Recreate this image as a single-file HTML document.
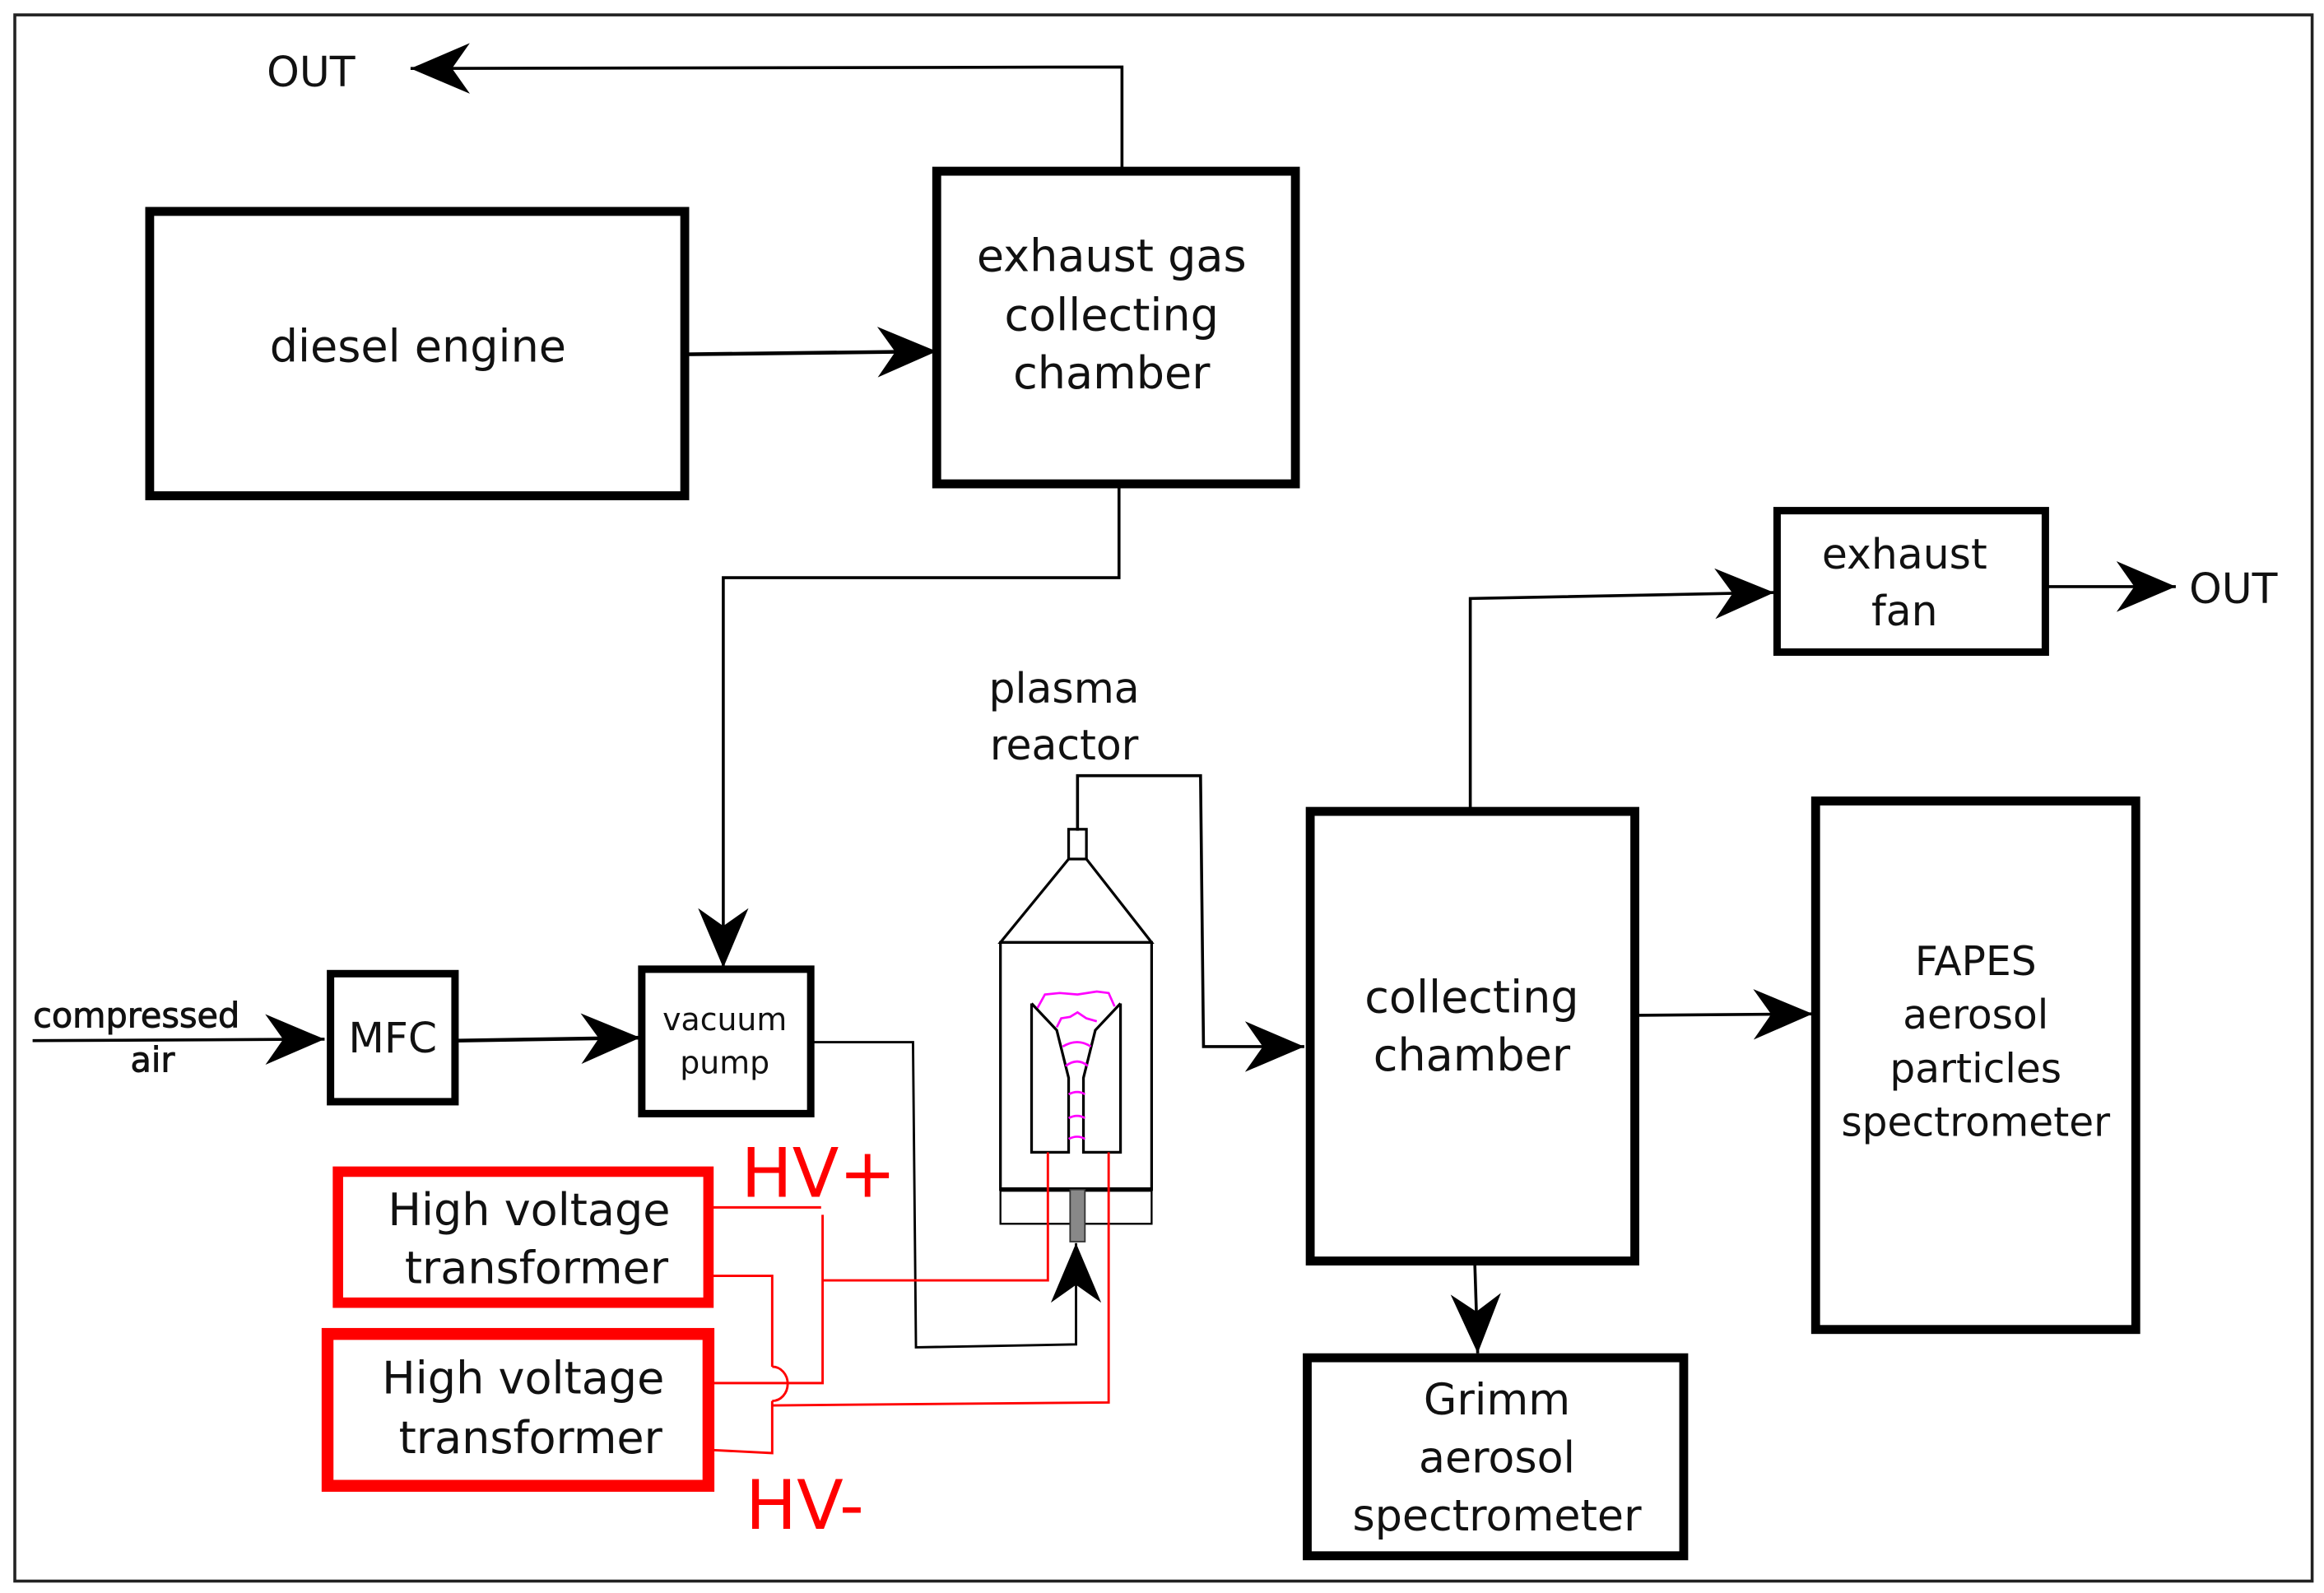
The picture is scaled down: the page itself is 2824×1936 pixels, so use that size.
<!DOCTYPE html>
<html><head><meta charset="utf-8"><style>
html,body{margin:0;padding:0;background:#fff;}
svg{display:block;}
text{font-family:"DejaVu Sans","Liberation Sans",sans-serif;fill:#111;}
</style></head><body>
<svg width="2824" height="1936" viewBox="0 0 1568 1070" preserveAspectRatio="none" xmlns="http://www.w3.org/2000/svg">
<defs>
<marker id="a" markerUnits="userSpaceOnUse" markerWidth="60" markerHeight="40" refX="0" refY="0" viewBox="-40 -20 60 40" orient="auto">
<path d="M0 0 L-40 -17 L-28 0 L-40 17 Z" fill="#000"/>
</marker>
</defs>
<rect x="0" y="0" width="1568" height="1070" fill="#fff"/>
<rect x="10" y="10" width="1550" height="1052" fill="none" stroke="#222" stroke-width="2"/>

<text x="180" y="58" font-size="28">OUT</text>
<polyline points="757,113 757,45 277,46" fill="none" stroke="#000" stroke-width="2" marker-end="url(#a)"/>

<rect x="101" y="142" width="361" height="191" fill="none" stroke="#000" stroke-width="6"/>
<text x="282" y="243" font-size="30" text-anchor="middle">diesel engine</text>
<line x1="462" y1="238" x2="632" y2="236" stroke="#000" stroke-width="2.5" marker-end="url(#a)"/>

<rect x="632" y="115" width="242" height="210" fill="none" stroke="#000" stroke-width="6"/>
<g font-size="30" text-anchor="middle">
<text x="750" y="182">exhaust gas</text>
<text x="750" y="222">collecting</text>
<text x="750" y="261">chamber</text>
</g>
<polyline points="755,325 755,388 488,388 488,650" fill="none" stroke="#000" stroke-width="2" marker-end="url(#a)"/>

<text x="92" y="690" font-size="23" text-anchor="middle" stroke="#111" stroke-width="0.5">compressed</text>
<text x="103" y="720" font-size="23" text-anchor="middle" stroke="#111" stroke-width="0.5">air</text>
<line x1="22" y1="699" x2="219" y2="698" stroke="#000" stroke-width="2" marker-end="url(#a)"/>
<rect x="223" y="654" width="84" height="86" fill="none" stroke="#000" stroke-width="5"/>
<text x="265" y="707" font-size="28" text-anchor="middle">MFC</text>
<line x1="307" y1="699" x2="432" y2="697" stroke="#000" stroke-width="2.5" marker-end="url(#a)"/>

<rect x="433" y="651" width="114" height="97" fill="none" stroke="#000" stroke-width="5"/>
<text x="489" y="692" font-size="21" text-anchor="middle">vacuum</text>
<text x="489" y="721" font-size="21" text-anchor="middle">pump</text>
<polyline points="548,700 616,700 618,905 726,903 726,835" fill="none" stroke="#000" stroke-width="1.6" marker-end="url(#a)"/>

<text x="718" y="472" font-size="28" text-anchor="middle">plasma</text>
<text x="718" y="510" font-size="28" text-anchor="middle">reactor</text>
<polyline points="727,558 727,521 810,521 812,703 880,703" fill="none" stroke="#000" stroke-width="2" marker-end="url(#a)"/>

<g fill="none" stroke="#000" stroke-width="1.8">
<rect x="721" y="557" width="12" height="20"/>
<polyline points="721,577 675,633 777,633 733,577"/>
<rect x="675" y="633" width="102" height="166"/>
<rect x="675" y="799" width="102" height="23" stroke-width="1.3"/>
<polyline points="696,674 696,774 721,774 721,724 713,692 696,674"/>
<polyline points="756,674 756,774 731,774 731,724 739,692 756,674"/>
</g>
<line x1="675" y1="799" x2="777" y2="799" stroke="#000" stroke-width="3"/>
<rect x="722" y="799" width="10" height="35" fill="#888" stroke="#333" stroke-width="1"/>
<g fill="none" stroke="#f0f" stroke-width="1.5">
<path d="M700 677 L705 668 L715 667 L727 668 L740 666 L748 667 L752 676"/>
<path d="M713 690 L716 684 L722 683 L727 680 L733 684 L740 686"/>
<path d="M717 703 Q727 697 736 703"/>
<path d="M719 716 Q727 710 734 716"/>
<path d="M721 735 Q727 732 732 735"/>
<path d="M721 751 Q727 748 732 751"/>
<path d="M721 765 Q727 762 732 765"/>
</g>

<rect x="228" y="787" width="250" height="88" fill="none" stroke="#f00" stroke-width="7"/>
<rect x="221" y="896" width="257" height="102" fill="none" stroke="#f00" stroke-width="8"/>
<g font-size="30" text-anchor="middle">
<text x="357" y="823">High voltage</text>
<text x="362" y="862">transformer</text>
<text x="353" y="936">High voltage</text>
<text x="358" y="976">transformer</text>
</g>
<text x="500" y="804" font-size="46" style="fill:#f00">HV+</text>
<text x="503" y="1027" font-size="46" style="fill:#f00">HV-</text>
<g fill="none" stroke="#f00" stroke-width="1.6">
<polyline points="481,811 554,811"/>
<polyline points="555,816 555,929 481,929"/>
<polyline points="555,860 707,860 707,774"/>
<polyline points="481,857 521,857 521,918"/>
<path d="M521 918 A10 11 0 0 1 521 941"/>
<polyline points="521,941 521,976 481,974"/>
<polyline points="521,944 748,942 748,774"/>
</g>

<rect x="884" y="545" width="219" height="302" fill="none" stroke="#000" stroke-width="6"/>
<text x="993" y="680" font-size="30" text-anchor="middle">collecting</text>
<text x="993" y="719" font-size="30" text-anchor="middle">chamber</text>
<polyline points="992,544 992,402 1197,398" fill="none" stroke="#000" stroke-width="2" marker-end="url(#a)"/>
<line x1="1103" y1="682" x2="1223" y2="681" stroke="#000" stroke-width="2" marker-end="url(#a)"/>
<line x1="995" y1="847" x2="997" y2="909" stroke="#000" stroke-width="2" marker-end="url(#a)"/>

<rect x="1199" y="343" width="181" height="95" fill="none" stroke="#000" stroke-width="5"/>
<text x="1285" y="382" font-size="28" text-anchor="middle">exhaust</text>
<text x="1285" y="420" font-size="28" text-anchor="middle">fan</text>
<line x1="1380" y1="394" x2="1468" y2="394" stroke="#000" stroke-width="2" marker-end="url(#a)"/>
<text x="1477" y="405" font-size="28">OUT</text>

<rect x="1225" y="538" width="216" height="355" fill="none" stroke="#000" stroke-width="6"/>
<g font-size="27" text-anchor="middle">
<text x="1333" y="655">FAPES</text>
<text x="1333" y="691">aerosol</text>
<text x="1333" y="727">particles</text>
<text x="1333" y="763">spectrometer</text>
</g>

<rect x="882" y="912" width="254" height="133" fill="none" stroke="#000" stroke-width="6"/>
<g font-size="29" text-anchor="middle">
<text x="1010" y="950">Grimm</text>
<text x="1010" y="989">aerosol</text>
<text x="1010" y="1028">spectrometer</text>
</g>
</svg>
</body></html>
